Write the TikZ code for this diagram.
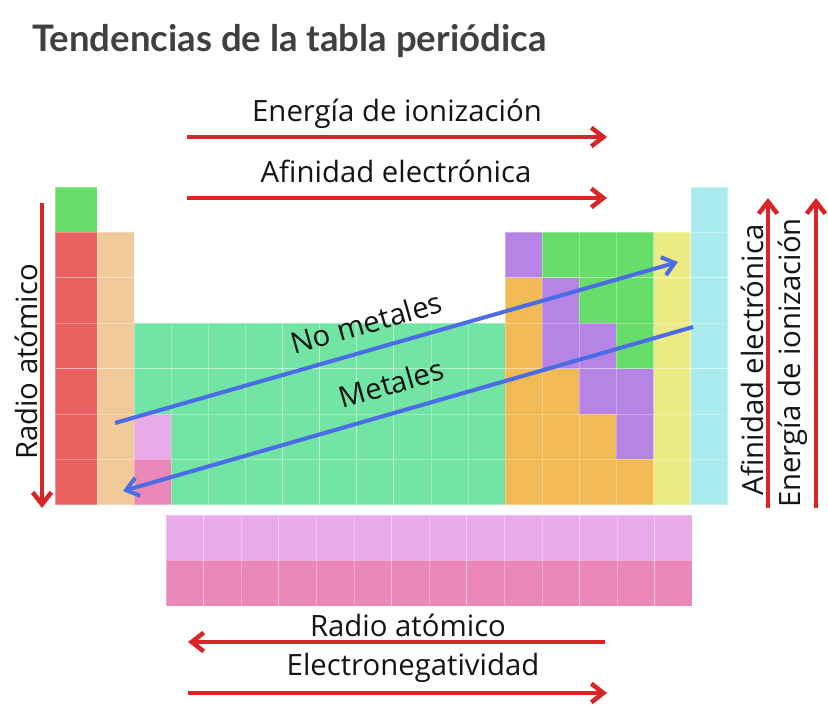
\documentclass[tikz,border=0pt]{standalone}
\usepackage{fontspec}
\setmainfont{Open Sans}
\newfontfamily\titlefont{Lato}
\usetikzlibrary{arrows.meta}
\definecolor{TrendRed}{RGB}{214,38,38}
\definecolor{TrendBlue}{RGB}{74,108,228}
\definecolor{TitleGray}{RGB}{64,64,64}
\definecolor{CellA}{RGB}{234,96,96}
\definecolor{CellE}{RGB}{240,202,152}
\definecolor{CellT}{RGB}{114,228,164}
\definecolor{CellN}{RGB}{104,222,106}
\definecolor{CellM}{RGB}{182,132,228}
\definecolor{CellP}{RGB}{242,186,84}
\definecolor{CellH}{RGB}{236,234,130}
\definecolor{CellG}{RGB}{170,236,238}
\definecolor{CellL}{RGB}{232,170,232}
\definecolor{CellC}{RGB}{234,136,186}
\tikzset{
  ptab/cell/.style={draw=white, draw opacity=0.3, line width=0.5pt},
  ptab/trend/.style={line width=3.4pt, draw=TrendRed},
  ptab/metal/.style={line width=3pt, draw=TrendBlue},
  ptab/label/.style={font=\fontsize{22}{26}\selectfont, text=black!92, inner sep=0pt},
  ptab/title/.style={font=\titlefont\bfseries\fontsize{27.4}{32}\selectfont, text=TitleGray, inner sep=0pt}
}

\begin{document}
\begin{tikzpicture}[x=0.75pt,y=-0.75pt,>={Straight Barb[length=9pt,width=14pt]}]
  \useasboundingbox (0,0) rectangle (828,705);

  % main block, one list per period
  \foreach \row [count=\r] in {
    {N,-,-,-,-,-,-,-,-,-,-,-,-,-,-,-,-,G},
    {A,E,-,-,-,-,-,-,-,-,-,-,M,N,N,N,H,G},
    {A,E,-,-,-,-,-,-,-,-,-,-,P,M,N,N,H,G},
    {A,E,T,T,T,T,T,T,T,T,T,T,P,M,M,N,H,G},
    {A,E,T,T,T,T,T,T,T,T,T,T,P,P,M,M,H,G},
    {A,E,L,T,T,T,T,T,T,T,T,T,P,P,P,M,H,G},
    {A,E,C,T,T,T,T,T,T,T,T,T,P,P,P,P,H,G}}
  {
    \foreach \k [count=\c] in \row {
      \if\k-\else
        \pgfmathsetmacro\xl{\c==1 ? 55 : 97+(\c-2)*37.1}
        \pgfmathsetmacro\xr{97+(\c-1)*37.1}
        \pgfmathsetmacro\yt{187+(\r-1)*45.4}
        \filldraw[ptab/cell, fill=Cell\k] (\xl,\yt) rectangle (\xr,\yt+45.4);
      \fi
    }
  }
  % f-block
  \foreach \c in {0,...,13} {
    \filldraw[ptab/cell, fill=CellL] (166+\c*37.6,515) rectangle (203.6+\c*37.6,560);
    \filldraw[ptab/cell, fill=CellC] (166+\c*37.6,560) rectangle (203.6+\c*37.6,606);
  }

  \node[ptab/title, anchor=base west] (title) at (32,52) {Tendencias de la tabla periódica};

  % top trends
  \node[ptab/label, anchor=base] (ei-top) at (397,122) {Energía de ionización};
  \coordinate (ei-top-w) at (187,137);
  \coordinate (ei-top-e) at (607,137);
  \draw[ptab/trend, ->] (ei-top-w) -- (ei-top-e);
  \node[ptab/label, anchor=base] (ae-top) at (396,183) {Afinidad electrónica};
  \coordinate (ae-top-w) at (187,198);
  \coordinate (ae-top-e) at (607,198);
  \draw[ptab/trend, ->] (ae-top-w) -- (ae-top-e);

  % bottom trends
  \node[ptab/label, anchor=base] (ra-bot) at (408,636) {Radio atómico};
  \coordinate (ra-bot-w) at (188,642);
  \coordinate (ra-bot-e) at (605,642);
  \draw[ptab/trend, <-] (ra-bot-w) -- (ra-bot-e);
  \node[ptab/label, anchor=base] (en-bot) at (413,675) {Electronegatividad};
  \coordinate (en-bot-w) at (188,693);
  \coordinate (en-bot-e) at (607,693);
  \draw[ptab/trend, ->] (en-bot-w) -- (en-bot-e);

  % left and right
  \node[ptab/label, rotate=90, anchor=base] (ra-left) at (37,362) {Radio atómico};
  \coordinate (ra-left-t) at (42,203);
  \coordinate (ra-left-b) at (42,508);
  \draw[ptab/trend, ->] (ra-left-t) -- (ra-left-b);
  \node[ptab/label, rotate=90, anchor=base] (ae-right) at (763,360) {Afinidad electrónica};
  \coordinate (ae-right-b) at (768,508);
  \coordinate (ae-right-t) at (768,198);
  \draw[ptab/trend, ->] (ae-right-b) -- (ae-right-t);
  \node[ptab/label, rotate=90, anchor=base] (ei-right) at (800,363) {Energía de ionización};
  \coordinate (ei-right-b) at (816,508);
  \coordinate (ei-right-t) at (816,198);
  \draw[ptab/trend, ->] (ei-right-b) -- (ei-right-t);

  % metals / non-metals
  \coordinate (nm-w) at (115,423);
  \coordinate (nm-e) at (678,262);
  \draw[ptab/metal, ->] (nm-w) -- node[ptab/label, sloped, above=10.5pt, pos=0.46] (nm-lab) {No metales} (nm-e);
  \coordinate (m-w) at (123,491);
  \coordinate (m-e) at (693,327);
  \draw[ptab/metal, <-] (m-w) -- node[ptab/label, sloped, above=12pt, pos=0.485] (m-lab) {Metales} (m-e);
\end{tikzpicture}
\end{document}
